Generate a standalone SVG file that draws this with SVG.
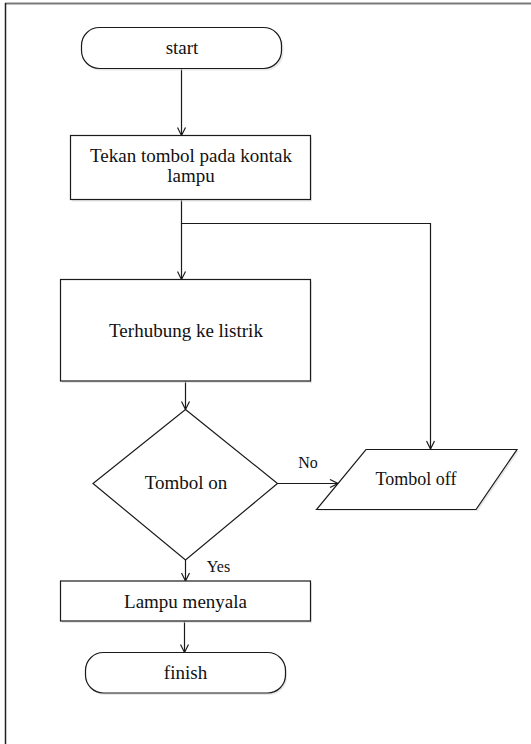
<svg xmlns="http://www.w3.org/2000/svg" width="531" height="744" viewBox="0 0 531 744">
<defs>
<style>
.shape{fill:#ffffff;stroke:#1a1a1a;stroke-width:1.2;}
.shadow{fill:#d8d8d8;stroke:none;opacity:0.6;}
.conn{fill:none;stroke:#1a1a1a;stroke-width:1.2;}
.t{font-family:"Liberation Serif","Times New Roman",serif;font-size:19px;fill:#111111;text-anchor:middle;}
.s{font-family:"Liberation Serif","Times New Roman",serif;font-size:16px;fill:#111111;text-anchor:middle;}
</style>
<marker id="arr" viewBox="0 0 10 10" refX="9" refY="5" markerWidth="10" markerHeight="10" markerUnits="userSpaceOnUse" orient="auto">
<path d="M1,1 L9,5 L1,9" fill="none" stroke="#1a1a1a" stroke-width="1.2"/>
</marker>
</defs>
<rect width="531" height="744" fill="#ffffff"/>
<line x1="5" y1="3.5" x2="531" y2="3.5" stroke="#7a7a7a" stroke-width="2"/>
<line x1="5.5" y1="3" x2="5.5" y2="744" stroke="#222222" stroke-width="1.5"/>

<g id="connectors">
<line class="conn" x1="181.5" y1="68.5" x2="181.5" y2="135.5" marker-end="url(#arr)"/>
<polyline class="conn" points="181.5,199.5 181.5,223.5 430.5,223.5 430.5,449" marker-end="url(#arr)"/>
<line class="conn" x1="181.5" y1="223.5" x2="181.5" y2="279.5" marker-end="url(#arr)"/>
<line class="conn" x1="185.5" y1="381" x2="185.5" y2="409.5" marker-end="url(#arr)"/>
<line class="conn" x1="277.5" y1="483.5" x2="338" y2="483.5" marker-end="url(#arr)"/>
<line class="conn" x1="185.5" y1="560" x2="185.5" y2="581" marker-end="url(#arr)"/>
<line class="conn" x1="184.5" y1="621" x2="184.5" y2="652.5" marker-end="url(#arr)"/>
<text class="s" x="308" y="468">No</text>
<text class="s" x="218.5" y="572">Yes</text>
</g>

<g id="start">
<rect class="shadow" x="83" y="29.5" width="200.5" height="41" rx="18"/>
<rect class="shape" x="81.5" y="27.5" width="200" height="41" rx="18"/>
<text class="t" x="182" y="53.5">start</text>
</g>

<g id="tekan">
<rect class="shadow" x="72" y="137.5" width="240" height="64"/>
<rect class="shape" x="70.5" y="135.5" width="240" height="64"/>
<text class="t" x="191" y="162">Tekan tombol pada kontak</text>
<text class="t" x="191" y="182">lampu</text>
</g>

<g id="terhubung">
<rect class="shadow" x="62" y="281.5" width="250" height="101.5"/>
<rect class="shape" x="60.5" y="279.5" width="250" height="101.5"/>
<text class="t" x="186" y="337">Terhubung ke listrik</text>
</g>

<g id="tombol-on">
<polygon class="shape" points="185.5,409.5 277.5,483.5 185.5,560 93,483.5"/>
<text class="t" x="186" y="489">Tombol on</text>
</g>

<g id="tombol-off">
<polygon class="shadow" points="368,451 519,451 478,511 318,511"/>
<polygon class="shape" points="366,449.5 517,449.5 476,509.5 316.5,509.5"/>
<text class="t" x="416" y="485" style="font-size:18px">Tombol off</text>
</g>

<g id="lampu-menyala">
<rect class="shadow" x="62" y="583" width="250" height="40"/>
<rect class="shape" x="60.5" y="581" width="250" height="40"/>
<text class="t" x="185.5" y="607.5">Lampu menyala</text>
</g>

<g id="finish">
<rect class="shadow" x="87" y="654.5" width="200" height="40.5" rx="18"/>
<rect class="shape" x="85.5" y="652.5" width="200" height="40.5" rx="18"/>
<text class="t" x="185.5" y="678.5">finish</text>
</g>
</svg>
